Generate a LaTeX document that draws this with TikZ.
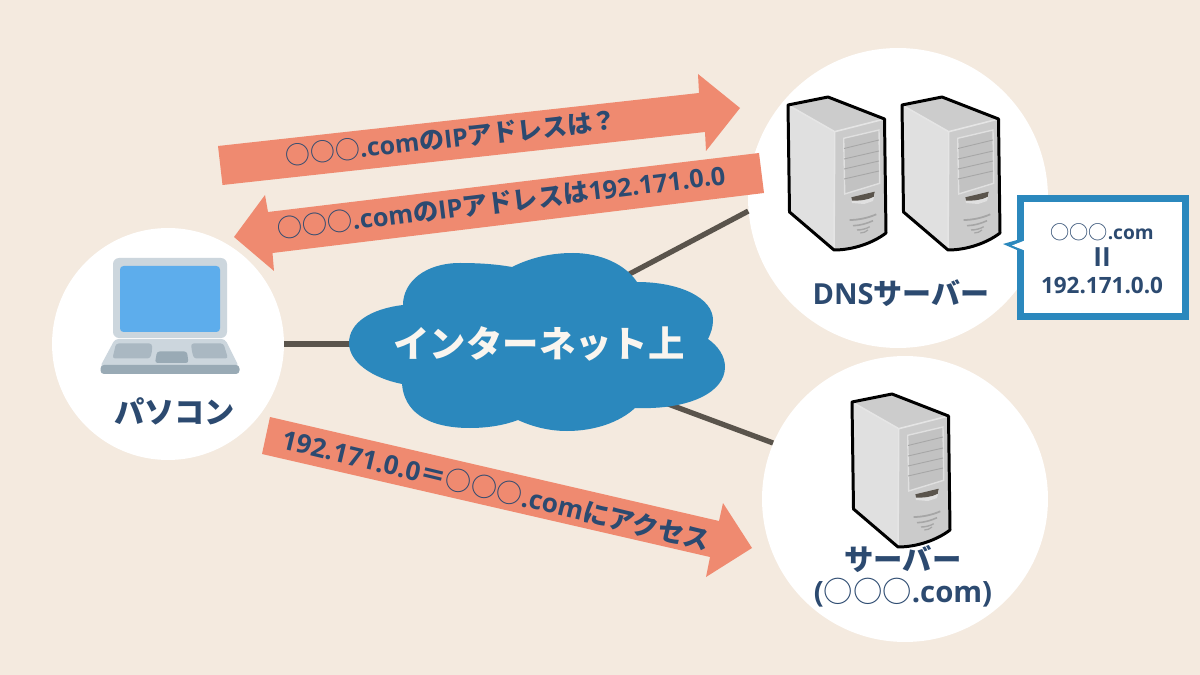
\documentclass[tikz,border=0pt]{standalone}
\usepackage{fontspec}
\setmainfont{Open Sans}
\newfontfamily\jpfont{Noto Sans CJK JP}
\newfontfamily\latfont{Open Sans}
\newcommand{\J}[1]{{\jpfont\bfseries #1}}
\newcommand{\Ci}{{\jpfont ○○○}}
\newcommand{\Lt}[1]{{\latfont\bfseries #1}}
\definecolor{bgc}{HTML}{F4EADF}
\definecolor{bluec}{HTML}{2B88BD}
\definecolor{salmon}{HTML}{EF8A70}
\definecolor{inkc}{HTML}{2C4A70}
\definecolor{linec}{HTML}{5A544C}
\definecolor{HTMLleft}{HTML}{E0E0E0}
\definecolor{HTMLfront}{HTML}{CBCBCB}
\definecolor{HTMLpanel}{HTML}{C2C2C2}
\definecolor{HTMLshelf}{HTML}{A6A6A6}
\definecolor{HTMLlid}{HTML}{CCD6DD}
\definecolor{HTMLscreen}{HTML}{5DADEC}
\definecolor{HTMLtrim}{HTML}{99AAB5}
\definecolor{HTMLkey}{HTML}{AAB8C2}
\tikzset{
  bubble/.style={circle,fill=white,inner sep=0pt},
  link/.style={linec,line width=3pt},
  band/.style={fill=salmon},
  lab/.style={text=inkc,inner sep=0pt,align=center},
  pics/servericon/.style={code={
    \fill[gray!40] (0,0) -- (40,-8) -- (96.5,14) -- (46.7,26.7) -- cycle;
    \fill[HTMLleft] (0,0) -- (46.7,26.7) -- (46,145) -- (1.5,107) -- cycle;
    \fill[HTMLfront] (46.7,26.7) -- (96.5,14) -- (98,128) .. controls (85,138) and (65,145) .. (46,145) -- cycle;
    \draw[white!90!black,line width=.9pt] (0,0) -- (46.7,26.7) -- (96.5,14);
    \draw[white!90!black,line width=.9pt] (46.7,26.7) -- (46,145);
    \draw[fill=HTMLpanel,draw=HTMLleft,line width=.8pt] (55.7,33.3) -- (91,25) -- (91.7,78.3) -- (56.7,89) -- cycle;
    \foreach \a/\b in {43.5/35,54/46,64/56,74/66}
      \draw[HTMLshelf,line width=.5pt] (56,\a) -- (91,\b);
    \fill[white!88!black] (63,93) -- (87,88) -- (85,96) -- (76,99) -- (64,98) -- cycle;
    \fill[linec] (63.3,92.3) -- (86.7,86.7) -- (85.7,91.7) .. controls (80,95) and (72,95.7) .. (64,95.7) -- cycle;
    \draw[HTMLshelf,line width=1pt] (61.7,115) .. controls (70,115) and (80,113) .. (88.3,109.3);
    \draw[HTMLshelf,line width=.9pt] (65,120.7) .. controls (72,120.5) and (79,118.5) .. (85,115.7);
    \draw[HTMLshelf,line width=.8pt] (69,125) .. controls (73,125) and (78,124) .. (81.7,121.7);
    \draw[HTMLshelf,line width=.7pt] (72.3,128) .. controls (75,128) and (78,127) .. (80,125);
    \draw[black,line width=1.7pt,line join=round] (0,0) -- (40,-8) -- (96.5,14) -- (98,128) .. controls (85,138) and (65,145) .. (46,145) -- (1.5,107) -- cycle;
  }}
}
\begin{document}
\begin{tikzpicture}[x=0.02cm,y=-0.02cm]
\useasboundingbox (0,0) rectangle (1200,675);
\fill[bgc] (0,0) rectangle (1200,675);

% circles
\node[bubble,minimum size=4.64cm] (pc) at (168,344) {};
\node[bubble,minimum size=6cm] (dns) at (898,198) {};
\node[bubble,minimum size=5.72cm] (srv) at (905,499) {};

% free ends inside the cloud
\coordinate (cpc) at (360,344);
\coordinate (cdns) at (620,279);
\coordinate (csrv) at (660,401);
\draw[link] (pc.0) -- (cpc);
\draw[link] (dns.185.3) -- (cdns);
\draw[link] (srv.157) -- (csrv);

% cloud
\fill[bluec] (403,305) .. controls (370,309) and (349,323) .. (349,343)
  .. controls (349,362) and (372,378) .. (402,384)
  .. controls (404,410) and (425,428) .. (470,428)
  .. controls (488,428) and (505,425) .. (518,420)
  .. controls (533,427) and (550,431) .. (567,431)
  .. controls (595,431) and (620,422) .. (635,408)
  .. controls (690,410) and (725,392) .. (725,367)
  .. controls (725,356) and (718,346) .. (708,339)
  .. controls (711,333) and (713,327) .. (713,320)
  .. controls (713,298) and (680,282) .. (637,282)
  .. controls (625,264) and (600,253) .. (573,253)
  .. controls (550,253) and (530,258) .. (512,267)
  .. controls (495,264) and (478,263) .. (460,263)
  .. controls (425,263) and (403,282) .. (403,305) -- cycle;
\node[inner sep=0pt,text=bgc!50!white,font=\fontsize{20.7pt}{22pt}\selectfont] (cloud) at (539,344) {\J{インターネット上}};

% arrows
\fill[band] (218,146) -- (699,93) -- (698,74) -- (740,108) -- (706,151) -- (705,132) -- (222.5,185) -- cycle;
\fill[band] (759,153) -- (764,193) -- (272.5,253) -- (274,271) -- (234,237) -- (265,195) -- (268,212) -- cycle;
\fill[band] (270,417) -- (719,521) -- (723,503) -- (752,548) -- (706,577) -- (710,557) -- (262,454) -- cycle;

\node[lab,rotate=6.3,font=\fontsize{14.2pt}{16pt}\selectfont] (t1) at (451,138) {\Ci\Lt{.com}\J{の}\Lt{IP}\J{アドレスは？}};
\node[lab,rotate=6.95,font=\fontsize{14.45pt}{16pt}\selectfont] (t2) at (501,202) {\Ci\Lt{.com}\J{の}\Lt{IP}\J{アドレスは}\Lt{192.171.0.0}};
\node[lab,rotate=-13.5,font=\fontsize{14.9pt}{16pt}\selectfont] (t3) at (496,490) {\Lt{192.171.0.0}\J{＝}\Ci\Lt{.com}\J{にアクセス}};

% laptop
\fill[HTMLlid,rounded corners=3.5pt] (113,258) rectangle (227,338);
\fill[HTMLscreen,rounded corners=2pt] (120,266) rectangle (220,332);
\fill[HTMLlid,rounded corners=2pt] (115,339) -- (225,339) -- (239,367) -- (100,367) -- cycle;
\fill[HTMLtrim,rounded corners=2pt] (100.5,365) rectangle (239.5,374);
\fill[HTMLkey,rounded corners=1.5pt] (116,343.5) -- (152,343.5) -- (152,352) -- (150,358.5) -- (112.5,358.5) -- cycle;
\fill[HTMLkey,rounded corners=1.5pt] (191,343.5) -- (223.5,343.5) -- (228,358.5) -- (194,358.5) -- (192,352) -- cycle;
\fill[HTMLtrim,rounded corners=1.5pt] (157,351.5) -- (187,351.5) -- (188.5,363) -- (155,363) -- cycle;
\node[lab,font=\fontsize{17.2pt}{18pt}\selectfont] (pclabel) at (174.5,411) {\J{パソコン}};

% servers
\pic at (788,105) {servericon};
\pic at (902,105) {servericon};
\pic at (852,402) {servericon};
\node[lab,font=\fontsize{16.5pt}{18pt}\selectfont] (dnslabel) at (901,293) {\Lt{DNS}\J{サーバー}};
\node[lab,font=\fontsize{16.7pt}{18pt}\selectfont] (srvlabel) at (903,576.5) {\J{サーバー}\\\Lt{(}\Ci\Lt{.com)}};

% callout
\fill[bluec] (1024,238) -- (1003,244) -- (1024,253) -- cycle;
\node[draw=bluec,fill=white,line width=4pt,minimum width=3.3cm,minimum height=2.36cm,inner sep=0pt,lab] (note) at (1103,257.5) {};
\fill[white] (1026,240) -- (1012,245.5) -- (1026,251) -- cycle;
\node[lab,font=\fontsize{10.9pt}{15.3pt}\selectfont] (notetext) at (1102,258.5) {\Ci\Lt{.com}\\{\fontsize{15pt}{15.3pt}\selectfont\Lt{II}}\\{\fontsize{12.8pt}{15.3pt}\selectfont\Lt{192.171.0.0}}};
\end{tikzpicture}
\end{document}
